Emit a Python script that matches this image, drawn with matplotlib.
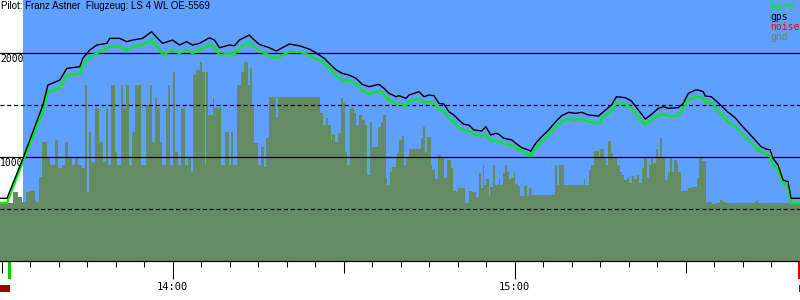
import matplotlib.pyplot as plt
from matplotlib.patches import Rectangle

# header / legend text
pilot_line = "Pilot: Franz Astner  Flugzeug: LS 4 WL OE-5569"
legend_names = ["baro", "gps", "noise", "gnd"]

# time axis: minutes after 13:30
hour_ticks = [30, 90]
hour_labels = ["14:00", "15:00"]
half_hour_ticks = [0, 60, 120]
five_min_ticks = list(range(0, 141, 5))
altitude_labels = [1000, 2000]
solid_levels = [1000, 2000]
dashed_levels = [500, 1500]

sky_start = 3.73       # blue background begins
takeoff_min = 1.1
landing_min = 139.7

# gps / baro trace (minutes, metres)
trace_min = [
    -0.3, 0.93, 3.73, 7.23, 8.10, 10.2, 11.43, 13.7, 14.23, 15.45,
    16.68, 18.43, 18.95, 20.7, 21.93, 22.98, 24.73, 26.3, 27.35, 28.23,
    29.98, 31.2, 32.43, 33.48, 34.7, 36.45, 37.33, 38.2, 39.95, 40.83,
    41.7, 43.45, 43.98, 45.2, 46.95, 48.18, 49.23, 50.45, 52.2, 53.95,
    54.83, 55.7, 56.58, 57.45, 58.68, 59.73, 60.95, 62.18, 63.23, 64.45,
    66.2, 67.08, 67.95, 69.18, 69.7, 70.93, 71.45, 73.2, 74.08, 74.95,
    75.83, 76.7, 77.58, 78.45, 79.33, 80.2, 81.08, 81.95, 82.83, 84.23,
    84.93, 85.8, 86.68, 87.2, 88.08, 89.48, 90.18, 91.23, 92.45, 92.8,
    93.68, 94.73, 95.95, 97.18, 98.23, 99.45, 100.68, 101.73, 102.95, 104.7,
    105.58, 106.98, 107.85, 109.43, 110.48, 111.7, 112.93, 113.98, 115.2, 116.08,
    116.95, 118.7, 119.58, 120.45, 121.68, 122.2, 123.08, 123.43, 124.48, 125.35,
    126.23, 127.45, 128.68, 129.73, 130.95, 132.18, 133.23, 134.1, 134.8, 135.33,
    136.2, 137.08, 137.95, 138.48, 140.05,
]
gps_alt = [
    603, 603, 987, 1500, 1692, 1740, 1853, 1868, 1949, 2029,
    2077, 2093, 2141, 2141, 2109, 2125, 2141, 2205, 2141, 2093,
    2125, 2077, 2109, 2077, 2093, 2147, 2125, 2051, 2077, 2070,
    2125, 2173, 2141, 2083, 2051, 2019, 2051, 2086, 2070, 2038,
    2013, 1981, 1949, 1901, 1837, 1805, 1788, 1757, 1699, 1676,
    1699, 1660, 1612, 1580, 1590, 1564, 1596, 1628, 1580, 1596,
    1590, 1516, 1510, 1436, 1404, 1356, 1314, 1308, 1260, 1250,
    1292, 1212, 1228, 1220, 1180, 1165, 1132, 1090, 1067, 1055,
    1132, 1196, 1260, 1340, 1397, 1430, 1420, 1430, 1404, 1394,
    1436, 1500, 1580, 1570, 1538, 1452, 1365, 1410, 1468, 1484,
    1468, 1475, 1516, 1612, 1644, 1644, 1628, 1586, 1580, 1538,
    1494, 1430, 1378, 1308, 1237, 1163, 1099, 1077, 1070, 987,
    923, 779, 763, 603, 603,
]
baro_alt = [
    560, 560, 955, 1436, 1628, 1660, 1788, 1804, 1880, 1964,
    1997, 2045, 2061, 2061, 2029, 2061, 2077, 2125, 2061, 1981,
    2029, 1997, 2029, 1997, 2029, 2077, 2060, 1981, 1997, 1990,
    2045, 2103, 2080, 2019, 1981, 1949, 1980, 2013, 2010, 1981,
    1949, 1933, 1900, 1853, 1788, 1740, 1735, 1699, 1644, 1603,
    1635, 1596, 1548, 1516, 1516, 1494, 1532, 1558, 1520, 1532,
    1520, 1452, 1440, 1372, 1340, 1282, 1260, 1250, 1215, 1205,
    1220, 1154, 1160, 1150, 1132, 1110, 1090, 1058, 1026, 1012,
    1083, 1147, 1212, 1292, 1340, 1365, 1355, 1365, 1340, 1324,
    1388, 1442, 1516, 1510, 1468, 1378, 1314, 1356, 1404, 1410,
    1394, 1400, 1468, 1548, 1580, 1580, 1570, 1526, 1520, 1468,
    1410, 1340, 1292, 1228, 1163, 1099, 1051, 1030, 1012, 923,
    880, 747, 715, 555, 555,
]

# terrain below the glider (step start minute, metres)
gnd_min = [
    -0.3, 2.03, 2.90, 3.50, 4.25, 4.95, 5.83, 6.58, 7.0, 7.87,
    8.45, 9.33, 9.90, 10.50, 11.08, 11.65, 12.25, 12.83, 13.40, 14.0,
    14.58, 14.98, 15.33, 15.75, 16.33, 17.08, 17.78, 18.25, 18.65, 19.25,
    19.83, 20.23, 21.0, 21.28, 21.75, 22.33, 22.92, 23.33, 24.50, 25.37,
    25.95, 26.42, 26.83, 27.23, 27.70, 28.17, 28.75, 29.22, 29.57, 30.03,
    30.45, 30.90, 31.50, 32.08, 32.65, 33.25, 33.53, 34.12,
    34.70, 35.17, 35.58, 35.87, 36.15, 37.03, 37.33, 38.50, 39.25, 39.95,
    40.25, 40.65, 41.23, 42.0, 42.58, 43.15, 43.57, 43.92, 44.33, 44.90,
    45.50, 46.08, 46.37, 46.83, 48.12, 48.40, 55.82, 56.40, 56.87, 57.22,
    57.75, 58.03, 58.50, 59.08, 59.50, 59.90, 60.25, 60.65, 61.07, 61.83,
    62.12, 62.70, 63.28, 63.70, 64.15, 64.57, 65.03, 66.08, 66.50, 66.90,
    67.37, 67.65, 68.07, 68.53, 69.12, 69.40,
    69.70, 70.17, 70.58, 70.87, 71.45, 73.50, 73.90, 74.25, 74.65, 75.25,
    75.53, 76.0, 76.58, 77.0, 77.58, 78.15, 78.75, 79.15, 79.62, 80.08,
    81.25, 81.95, 82.53, 83.23, 83.70, 84.0, 84.40, 84.58, 84.98, 85.45,
    85.75, 86.15, 86.62, 87.20, 87.50, 87.90, 88.25, 88.65, 88.95, 89.42,
    89.83, 90.12, 90.58, 91.0, 91.58, 92.15, 92.57, 93.03, 97.12, 97.40,
    97.70, 98.70, 102.08, 102.37, 102.95, 103.42, 103.83,
    104.70, 105.0, 105.58, 105.98, 106.45, 106.92, 107.33, 107.90, 108.50, 108.90,
    109.25, 109.65, 110.07, 110.53, 111.0, 111.40, 111.82, 112.28, 112.75, 113.15,
    113.57, 113.92, 114.33, 114.73, 115.08, 115.50, 115.90, 116.37, 116.83, 117.25,
    117.65, 118.0, 118.40, 118.70, 119.17, 120.45, 121.03, 121.90, 122.32, 122.78,
    123.48, 123.65, 124.53, 125.40, 126.0, 126.58, 127.15, 132.12, 132.70, 140.1,
]
gnd_alt = [
    555, 667, 619, 571, 667, 676, 571, 811, 1147, 987,
    923, 1163, 891, 923, 1147, 987, 923, 987, 923, 891,
    1692, 667, 1243, 955, 1468, 1147, 955, 1468, 923, 1692,
    1051, 923, 1692, 1468, 1692, 923, 1243, 1692, 923, 1500,
    1692, 1147, 1564, 1468, 1147, 923, 1468, 1692, 923, 1820,
    1051, 923, 1468, 923, 987, 859, 1788, 1836,
    1917, 1820, 923, 1820, 1404, 1564, 1468, 923, 1243, 923,
    1243, 923, 1692, 1820, 1917, 1692, 1853, 1484, 1131, 923,
    1099, 907, 1179, 1580, 1388, 1580, 1420, 1308, 1372, 1308,
    1163, 1211, 1147, 1227, 1564, 1516, 1051, 923, 1468, 1420,
    1308, 1404, 1356, 1308, 827, 1340, 1099, 1292, 1340, 1404,
    795, 731, 859, 907, 987, 1035,
    1163, 1202, 923, 987, 1077, 1179, 1292, 1051, 1195, 923,
    875, 788, 1019, 993, 795, 971, 898, 676, 660, 699,
    561, 673, 660, 619, 843, 699, 923, 731, 788, 628,
    715, 923, 731, 788, 731, 843, 923, 859, 788, 801,
    859, 737, 724, 628, 724, 628, 699, 635, 923, 731,
    923, 731, 788, 731, 875, 923, 1057,
    993, 1077, 1003, 923, 1153, 1035, 993, 923, 859, 827,
    779, 795, 747, 820, 788, 827, 747, 897, 987, 795,
    923, 1003, 939, 1077, 987, 1186, 987, 779, 859, 993,
    859, 971, 939, 859, 676, 699, 715, 795, 987, 961,
    555, 571, 545, 555, 587, 571, 560, 577, 560, 560,
]

SKY = "#5fa0ff"
GND = "#648c64"
BARO = "#00f000"
MONO = "DejaVu Sans Mono"

fig = plt.figure(figsize=(8, 3), dpi=100)
ax = fig.add_axes([0, 39 / 300, 1, 261 / 300])
ax.set_xlim(-0.3, 140.05)
ax.set_ylim(0, 2510)

# altitude labels sit under the sky patch (they get cut at its edge)
for v in altitude_labels:
    ax.annotate(str(v), xy=(0, v), xycoords=ax.get_yaxis_transform(),
                xytext=(0, -0.8), textcoords="offset points", va="top", ha="left",
                family=MONO, fontsize=7, zorder=0.5)

ax.axvspan(sky_start, 140.05, color=SKY, lw=0, zorder=1)
ax.fill_between(gnd_min, 0, gnd_alt, step="post", color=GND, lw=0, zorder=2)

for lvl in solid_levels:
    ax.axhline(lvl, color="black", lw=0.9, zorder=3)
for lvl in dashed_levels:
    ax.axhline(lvl, color="black", lw=0.9, ls=(0, (3.2, 2.2)), zorder=3)

ax.plot(trace_min, baro_alt, color=BARO, lw=1.5, zorder=4)
ax.plot(trace_min, gps_alt, color="black", lw=1.0, zorder=5)

# axes cosmetics
for side in ["top", "left", "right"]:
    ax.spines[side].set_visible(False)
ax.spines["bottom"].set_linewidth(0.9)
ax.spines["bottom"].set_zorder(6)
ax.set_yticks([])
ax.set_xticks(hour_ticks, labels=hour_labels)
ax.set_xticks(five_min_ticks, minor=True)
ax.tick_params(which="major", length=13, width=0.75, pad=2, labelsize=7.5,
               labelfontfamily=MONO)
ax.tick_params(which="minor", length=4.3, width=0.75)
sec = ax.secondary_xaxis("bottom")
sec.set_xticks(half_hour_ticks)
sec.tick_params(length=8.6, width=0.75, labelbottom=False)
sec.spines["bottom"].set_visible(False)

# takeoff / landing markers under the axis
xt = ax.get_xaxis_transform()
ax.add_patch(Rectangle((takeoff_min, -0.069), 0.52, 0.069, transform=xt,
                       color="#00cc00", lw=0, clip_on=False))
ax.add_patch(Rectangle((landing_min, -0.069), 0.35, 0.069, transform=xt,
                       color="#dd0000", lw=0, clip_on=False))
ax.add_patch(Rectangle((-0.3, -0.119), 1.75, 0.027, transform=xt,
                       color="#a00000", lw=0, clip_on=False))
ax.add_patch(Rectangle((139.85, -0.119), 0.3, 0.027, transform=xt,
                       color="#a00000", lw=0, clip_on=False))

fig.text(0.001, 1 - 1 / 300, pilot_line, va="top", ha="left",
         family="Liberation Sans", fontsize=7)

legend_colors = [BARO, "black", "#ff0000", GND]
for i, (name, col) in enumerate(zip(legend_names, legend_colors)):
    fig.text(770 / 800, 1 - (10 + 10 * i) / 300, name, va="baseline",
             ha="left", family=MONO, fontsize=7, color=col)

fig.savefig("out.png", dpi=100)
